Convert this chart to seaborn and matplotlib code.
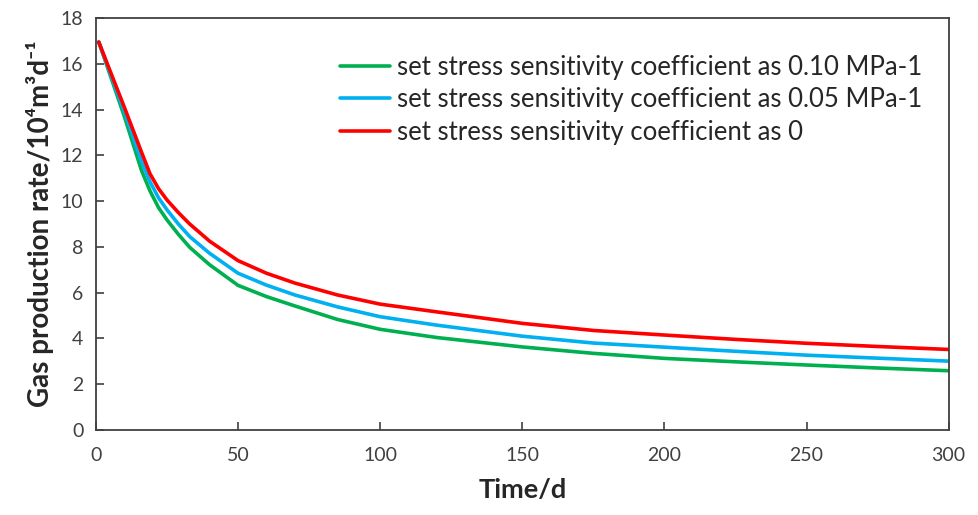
import numpy as np
import pandas as pd
import matplotlib
matplotlib.use("Agg")
import matplotlib.pyplot as plt
import seaborn as sns

# ── Data ─────────────────────────────────────────────────────────────────────
days = [1, 10, 16, 19, 22, 25, 29, 33, 40, 50, 60, 70, 85, 100, 120, 150, 175, 200, 225, 250,
        275, 300]
rate_010 = [16.95, 13.7, 11.35, 10.45, 9.72, 9.18, 8.55, 7.98, 7.22, 6.32, 5.83, 5.42, 4.83,
            4.4, 4.04, 3.63, 3.35, 3.13, 2.98, 2.84, 2.71, 2.59]
rate_005 = [16.95, 13.9, 11.75, 10.85, 10.15, 9.62, 9.0, 8.45, 7.72, 6.85, 6.33, 5.9, 5.38,
            4.95, 4.58, 4.1, 3.8, 3.62, 3.44, 3.27, 3.14, 3.01]
rate_000 = [16.95, 14.1, 12.15, 11.2, 10.55, 10.05, 9.5, 9.0, 8.25, 7.4, 6.85, 6.42, 5.9,
            5.5, 5.16, 4.66, 4.35, 4.15, 3.96, 3.79, 3.65, 3.52]

labels = ["set stress sensitivity coefficient as 0.10 MPa-1",
          "set stress sensitivity coefficient as 0.05 MPa-1",
          "set stress sensitivity coefficient as 0"]
colors = ["#00B050", "#00B0F0", "#FF0000"]

df = pd.concat([
    pd.DataFrame({"day": days, "rate": r, "case": lab})
    for r, lab in zip([rate_010, rate_005, rate_000], labels)
])

# ── Style ────────────────────────────────────────────────────────────────────
sns.set_theme(style="ticks")
plt.rcParams["font.family"] = ["Lato", "DejaVu Sans"]

fig = plt.figure(figsize=(9.79, 5.15), dpi=100)
ax = fig.add_axes([0.098, 0.165, 0.871, 0.800])

sns.lineplot(data=df, x="day", y="rate", hue="case", hue_order=labels,
             palette=colors, linewidth=2.6, ax=ax)

ax.set_xlim(0, 300)
ax.set_ylim(0, 18)
ax.set_xticks(range(0, 301, 50))
ax.set_yticks(range(0, 19, 2))
ax.tick_params(direction="in", length=6, width=1.2, labelsize=14,
               labelcolor="#404040", color="#404040", pad=12)
ax.tick_params(axis="y", pad=9)
for s in ax.spines.values():
    s.set_color("#404040")
    s.set_linewidth(1.3)

ax.set_xlabel("Time/d", fontsize=19.5, fontweight="bold", labelpad=10)
ax.set_ylabel("Gas production rate/10⁴m³d⁻¹", fontsize=20, fontweight="bold", labelpad=5)

leg = ax.legend(loc="upper right", frameon=False, fontsize=18.5, handlelength=1.95,
                handletextpad=0.25, labelspacing=0.3, bbox_to_anchor=(0.99, 0.955),
                borderpad=0.2)
for h in leg.get_lines():
    h.set_linewidth(2.6)

fig.savefig("out.png", dpi=100)
